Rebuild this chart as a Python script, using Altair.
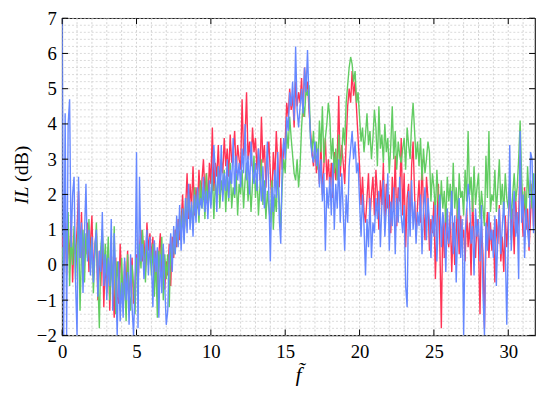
import altair as alt
import pandas as pd

# frequency grid (normalised frequency f~), step 0.1 from 0 to 31.8
f = [round(i * 0.1, 1) for i in range(319)]

red = [
    0.8, 0.2, 1.2, -0.3, 0.9, 0.1, 1.4, -0.5, 0.7, 0.3,
    1.0, 2.1, 0.2, 1.5, -0.4, 0.8, 0.3, 1.2, -0.2, 0.6,
    1.4, -0.3, 0.5, 0.9, -1.0, 0.4, -0.6, 0.8, -1.2, 0.2,
    -0.8, 0.5, -1.3, 0.3, -0.5, -1.5, 0.2, -0.9, -1.1, 0.6,
    -0.4, -1.2, 0.1, -0.7, 0.4, -1.0, -0.3, 0.2, -1.1, -0.5,
    0.3, -0.6, 0.5, 1.0, 0.1, 0.7, -0.2, 1.2, 0.4, 0.9,
    0.2, 0.8, -0.5, 0.4, -0.9, 0.3, 0.9, -0.4, 0.5, -0.7,
    0.1, -0.3, 0.6, -0.6, 0.8, 0.2, 1.0, 0.5, 1.3, 0.7,
    1.2, 2.0, 0.9, 1.6, 2.6, 1.3, 2.3, 1.6, 2.8, 1.4,
    2.2, 1.6, 2.7, 1.8, 2.4, 3.0, 2.0, 2.6, 1.7, 2.9,
    2.3, 3.9, 2.1, 2.9, 2.5, 3.4, 2.2, 3.0, 2.6, 3.6,
    2.8, 3.3, 2.5, 3.7, 2.9, 3.2, 3.8, 2.6, 3.4, 3.0,
    2.7, 4.7, 3.1, 3.6, 4.9, 3.0, 3.5, 2.8, 3.9, 3.2,
    3.6, 2.7, 3.3, 2.4, 4.2, 2.9, 3.4, 2.2, 3.0, 3.5,
    2.6, 1.8, 3.2, 2.4, 3.8, 2.9, 2.2, 3.6, 2.7, 3.3,
    3.5, 4.6, 4.2, 5.0, 4.4, 4.8, 3.9, 5.2, 4.5, 4.9,
    4.6, 5.3, 4.2, 5.6, 4.9, 5.2, 4.4, 3.8, 3.2, 2.8,
    3.4, 2.6, 3.1, 2.3, 3.5, 2.0, 2.8, 3.6, 2.4, 3.0,
    2.2, 2.9, 1.9, 3.2, 2.4, 3.0, 4.8, 2.5, 3.4, 2.9,
    2.3, 3.5, 4.5, 5.0, 4.6, 5.5, 4.8, 5.2, 4.4, 3.6,
    2.8, 1.7, 2.5, 1.5, 1.2, 1.9, 2.6, 1.3, 2.0, 2.5,
    1.4, 2.7, 2.0, 1.0, 2.4, 1.7, 2.9, 1.2, 2.3, 1.6,
    2.0, 0.9, 2.5, 1.5, 3.1, 1.1, 2.2, 1.8, 3.6, 1.4,
    2.6, 0.5, 1.9, 2.3, 1.0, 2.8, 3.5, 2.0, 0.8, 1.7,
    2.4, 1.2, 3.0, 1.6, 0.7, 2.5, 1.9, 0.4, 1.3, 0.9,
    1.8, -0.4, 1.1, 2.3, 0.6, -1.8, 1.4, 0.2, 1.7, 0.9,
    0.5, 1.5, -0.2, 1.2, 0.0, 0.9, 1.8, 0.3, 1.4, 0.7,
    1.0, 0.1, 1.6, 0.5, 1.2, -0.3, 1.9, 0.8, 0.2, 1.3,
    0.6, -1.4, 1.1, 0.3, -1.8, 0.9, 1.5, 0.2, 1.2, 0.4,
    1.0, -0.5, 1.3, 0.6, 1.7, 0.1, 0.8, -0.2, 1.4, 0.5,
    1.2, 2.4, 0.7, 1.6, 0.3, 1.9, 0.9, 1.3, 3.1, 1.7,
    0.8, 2.2, 1.0, 1.6, 0.4, 1.4, 2.3, 1.1, 1.9,
]

green = [
    0.5, -0.2, 1.0, 0.3, 1.5, -0.6, 0.8, 0.0, 1.1, -0.4,
    0.6, 1.2, -1.3, 0.4, 1.0, -0.5, 0.9, 0.2, 1.3, -0.1,
    0.7, -0.8, 0.3, 1.2, -0.4, -1.8, 0.5, 1.0, -0.2, 0.6,
    -0.3, 0.8, -1.0, 0.2, -0.7, 1.1, -1.4, 0.1, -0.5, -1.3,
    0.2, -1.1, -0.4, -1.6, 0.3, -0.8, -1.3, 0.0, -0.6, -1.4,
    0.2, -0.4, 0.6, -0.1, 1.0, 0.3, -0.5, 0.7, 0.0, 0.5,
    -0.3, 0.6, -0.9, 0.2, -1.5, 0.4, -0.2, 0.8, -1.0, 0.3,
    -0.4, 0.3, -1.2, 0.5, 0.1, 0.8, 0.3, 1.1, 0.6, 1.4,
    0.9, 1.6, 0.7, 1.9, 1.1, 2.0, 1.3, 1.7, 1.0, 2.2,
    1.4, 2.0, 1.2, 2.4, 1.6, 2.2, 1.3, 2.6, 1.8, 2.1,
    1.7, 2.6, 1.3, 2.3, 1.9, 2.8, 1.6, 2.4, 2.0, 2.7,
    1.5, 2.5, 1.8, 2.9, 1.6, 2.2, 1.9, 2.6, 1.4, 2.3,
    2.0, 2.7, 1.6, 2.4, 2.9, 1.8, 2.5, 1.5, 2.3, 3.1,
    1.9, 2.6, 1.4, 2.2, 3.0, 1.7, 2.4, 1.3, 2.1, 1.6,
    1.2, 2.4, 1.0, 2.0, 1.5, 2.6, 1.8, 1.0, 2.3, 3.0,
    2.6, 3.8, 3.3, 4.2, 3.6, 3.1, 2.6, 2.4, 3.0, 2.2,
    2.8, 3.9, 4.6, 4.2, 5.0, 4.8, 5.1, 3.6, 3.2, 3.8,
    3.0, 3.5, 2.7, 4.1, 3.2, 4.5, 2.9, 3.6, 4.0, 4.6,
    4.2, 3.0, 3.6, 2.6, 3.3, 2.4, 3.7, 2.8, 3.1, 3.9,
    3.4, 4.6, 5.1, 5.6, 5.9, 5.7, 5.2, 5.5, 4.6, 4.9,
    4.2, 3.5, 3.9, 3.2, 3.7, 4.3, 3.4, 3.8, 3.0, 3.6,
    4.4, 3.9, 2.8, 4.5, 3.3, 3.7, 2.9, 4.0, 3.2, 3.6,
    2.6, 3.4, 4.5, 3.0, 3.8, 2.7, 3.5, 3.1, 2.9, 3.3,
    3.6, 2.7, 3.9, 3.4, 3.0, 4.0, 4.6, 3.8, 3.0, 3.5,
    2.8, 3.6, 2.4, 3.3, 2.6, 3.0, 3.5, 3.2, 1.8, 2.6,
    2.2, 1.5, 2.7, 1.9, 1.4, 2.4, 1.6, 2.1, 1.2, 2.5,
    1.8, 2.3, 1.4, 2.9, 1.6, 2.2, 1.3, 2.6, 1.9, 2.1,
    1.4, 2.7, 1.8, 3.8, 2.0, 2.5, 1.5, 2.8, 1.7, 2.2,
    2.6, 1.3, 2.1, 1.6, 1.1, 3.1, 1.9, 3.8, 1.5, 2.0,
    1.8, 2.7, 1.5, 2.2, 3.0, 1.7, 2.3, 1.4, 2.6, 1.9,
    1.6, 2.3, 1.3, 2.0, 2.6, 1.8, 2.2, 3.0, 4.1, 2.5,
    1.5, 2.1, 1.3, 2.8, 1.9, 2.4, 1.6, 2.6, 1.8,
]

blue = [
    7.0, -2.0, 4.3, -2.0, 4.0, 4.7, 0.5, 2.0, 2.5, -0.5,
    -2.0, 2.5, 0.2, 1.2, -0.8, 0.9, 2.3, 0.1, 1.0, -0.3,
    0.8, -0.5, 0.6, 1.0, -0.9, 0.4, -0.2, 1.5, -0.6, 0.3,
    -1.0, 0.2, -0.6, 1.3, -1.3, 0.9, -0.4, -2.0, 0.1, -1.6,
    -0.5, -1.5, 0.2, -1.0, -0.2, -1.7, 0.3, -1.2, -2.0, -0.6,
    3.2, -1.8, 2.5, 0.1, 0.6, -0.4, 0.3, 1.0, -0.3, 0.8,
    0.1, -1.2, 0.7, -0.2, 0.5, -1.5, 0.3, -0.8, 0.6, -0.6,
    -1.7, -1.3, 0.2, 0.9, -0.2, 1.1, 0.3, 1.4, 0.5, 1.7,
    0.4, 1.6, 0.6, 1.9, 0.9, 2.3, 1.0, 1.8, 0.8, 2.0,
    1.2, 2.2, 1.4, 1.9, 1.6, 2.5, 1.5, 2.1, 1.3, 2.4,
    1.6, 2.5, 3.4, 2.6, 1.5, 2.8, 2.0, 3.4, 1.8, 2.6,
    2.1, 3.0, 1.9, 2.7, 2.3, 3.6, 2.0, 3.1, 2.4, 2.9,
    2.2, 3.3, 2.6, 4.0, 2.4, 3.1, 2.0, 3.5, 2.7, 2.3,
    2.9, 2.1, 3.3, 2.5, 1.8, 2.8, 1.6, 2.4, 3.5, 2.0,
    0.1, 2.2, 1.5, 2.7, 1.9, 3.2, 1.3, 0.6, 3.0, 3.6,
    3.0, 4.2, 3.8, 4.9, 4.5, 5.2, 4.1, 6.2, 4.4, 3.9,
    4.5, 5.0, 4.3, 5.6, 4.9, 6.1, 4.6, 3.6, 3.1, 2.9,
    3.5, 2.8, 3.3, 2.2, 3.0, 1.8, 2.6, 0.4, 2.2, 1.6,
    2.5, 1.4, 2.9, 1.0, 2.3, 1.6, 3.0, 1.2, 2.6, 1.5,
    0.4, 2.0, 1.2, 2.8, 3.3, 3.8, 3.0, 3.5, 2.6, 2.9,
    1.8, 0.8, 2.0, 1.1, -0.3, 1.3, 0.5, 1.9, 0.2, 1.2,
    0.9, 1.9, 1.3, 2.1, 0.5, 1.7, 2.4, 0.8, 1.6, 2.6,
    0.4, 1.8, 1.1, 2.2, 0.3, 1.9, 1.2, 2.5, 1.4, 0.9,
    1.7, -0.6, -1.2, 2.1, 0.8, 2.4, 1.0, 1.8, 0.6, 1.5,
    1.1, 2.0, 0.3, 1.6, 2.2, 0.7, 1.9, 1.2, 0.2, 1.4,
    0.8, 1.7, 0.1, 1.3, 2.0, 0.5, 1.5, 1.1, -0.2, 1.6,
    0.6, 1.2, 2.1, 0.3, 1.4, -0.5, 1.0, 1.9, 0.2, 1.3,
    -2.0, 0.9, 1.5, 2.3, 1.8, 0.6, 1.1, -0.3, 1.6, 0.8,
    1.3, 0.1, 1.7, -0.8, -2.0, 1.2, 0.4, 1.5, 0.7, 1.0,
    0.2, 1.4, -0.6, 0.9, 1.6, 0.3, 1.1, 1.8, 0.5, -1.7,
    0.7, 3.4, 0.4, 1.3, 2.1, 0.8, 1.5, -0.4, 3.8, 1.2,
    2.0, 0.2, 1.6, 1.0, 0.5, 3.2, 3.0, 0.9, 2.6,
]

x_ticks = [0, 5, 10, 15, 20, 25, 30]
y_ticks = [-2, -1, 0, 1, 2, 3, 4, 5, 6, 7]
x_minor = list(range(0, 32))
y_minor = [round(-2 + 0.2 * k, 1) for k in range(46)]

W, H = 480, 322
FONT = "Liberation Serif"

xs = alt.Scale(domain=[0, 31.8], nice=False, zero=False)
ys = alt.Scale(domain=[-2, 7], nice=False, zero=False)

x_axis = alt.Axis(values=x_ticks, grid=False, domain=False, tickSize=0,
                  labelFont=FONT, labelFontSize=19, labelColor="#000",
                  labelPadding=7, labelOverlap=False, labelFlush=False, title=None)
y_axis = alt.Axis(values=y_ticks, grid=False, domain=False, tickSize=0,
                  labelFont=FONT, labelFontSize=19, labelColor="#000",
                  labelPadding=6, labelOverlap=False, labelFlush=False, title=None)

df = pd.DataFrame({"f": f, "red": red, "green": green, "blue": blue})

grid_v = alt.Chart(pd.DataFrame({"v": x_minor})).mark_rule(
    color="#c8c8c8", strokeWidth=0.8, strokeDash=[2, 2]
).encode(x=alt.X("v:Q", scale=xs, axis=x_axis))
grid_h = alt.Chart(pd.DataFrame({"v": y_minor})).mark_rule(
    color="#d0d0d0", strokeWidth=0.8, strokeDash=[2, 2]
).encode(y=alt.Y("v:Q", scale=ys, axis=y_axis))


def series(col, color):
    return alt.Chart(df).mark_line(color=color, strokeWidth=1.4, clip=True).encode(
        x=alt.X("f:Q", scale=xs, axis=x_axis),
        y=alt.Y(f"{col}:Q", scale=ys, axis=y_axis),
    )


xt = pd.DataFrame({"v": x_ticks})
yt = pd.DataFrame({"v": y_ticks})
tick_b = alt.Chart(xt).mark_rule(color="#000", strokeWidth=1).encode(
    x=alt.X("v:Q", scale=xs, axis=x_axis), y=alt.value(H), y2=alt.value(H - 6))
tick_t = alt.Chart(xt).mark_rule(color="#000", strokeWidth=1).encode(
    x=alt.X("v:Q", scale=xs, axis=x_axis), y=alt.value(0), y2=alt.value(6))
tick_l = alt.Chart(yt).mark_rule(color="#000", strokeWidth=1).encode(
    y=alt.Y("v:Q", scale=ys, axis=y_axis), x=alt.value(0), x2=alt.value(6))
tick_r = alt.Chart(yt).mark_rule(color="#000", strokeWidth=1).encode(
    y=alt.Y("v:Q", scale=ys, axis=y_axis), x=alt.value(W), x2=alt.value(W - 6))

title_df = pd.DataFrame({"a": [0]})
t_il = alt.Chart(title_df).mark_text(
    text="IL", font=FONT, fontSize=20, fontStyle="italic", angle=270,
    align="right", baseline="middle", color="#000"
).encode(x=alt.value(-41), y=alt.value(171))
t_db = alt.Chart(title_df).mark_text(
    text="(dB)", font=FONT, fontSize=20, angle=270,
    align="left", baseline="middle", color="#000"
).encode(x=alt.value(-41), y=alt.value(166))
t_f = alt.Chart(title_df).mark_text(
    text="f\u0303", font=FONT, fontSize=22, fontStyle="italic",
    align="center", baseline="middle", color="#000"
).encode(x=alt.value(240), y=alt.value(362))

chart = alt.layer(
    grid_v, grid_h,
    series("red", "#ff3355"), series("green", "#62cc62"), series("blue", "#6688ff"),
    tick_b, tick_t, tick_l, tick_r, t_il, t_db, t_f,
).properties(
    width=W, height=H,
    autosize=alt.AutoSizeParams(type="none"),
    padding={"left": 55, "top": 7.5, "right": 1, "bottom": 48},
).configure(background="white", font=FONT).configure_axis(
    labelFont=FONT, labelFontSize=19, labelColor="#000", labelOverlap=False,
    labelFlush=False
).configure_view(stroke="#222", strokeWidth=1.2)

chart.save("out.html", embed_options={"renderer": "svg", "actions": False})
